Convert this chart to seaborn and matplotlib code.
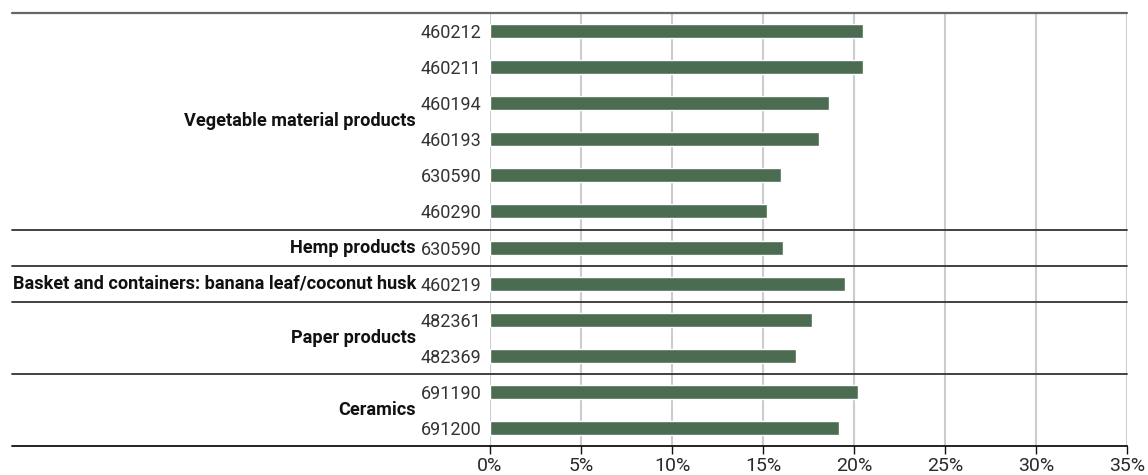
import numpy as np
import pandas as pd
import matplotlib
matplotlib.use("Agg")
import matplotlib.pyplot as plt
import matplotlib.transforms as mtransforms
import seaborn as sns

groups = ["Vegetable material products"] * 6 + [
    "Hemp products",
    "Basket and containers: banana leaf/coconut husk",
    "Paper products", "Paper products",
    "Ceramics", "Ceramics",
]
codes = ["460212", "460211", "460194", "460193", "630590", "460290",
         "630590", "460219", "482361", "482369", "691190", "691200"]
shares = [20.5, 20.5, 18.6, 18.1, 16.0, 15.2, 16.1, 19.5, 17.7, 16.8, 20.2, 19.2]
xticks = [0, 5, 10, 15, 20, 25, 30, 35]

bar_color = "#4b6c51"

sns.set_theme(style="white")
plt.rcParams["font.family"] = ["Roboto", "DejaVu Sans"]

df = pd.DataFrame({"group": groups, "code": codes, "share": shares})
df["row"] = [f"{g}|{c}|{i}" for i, (g, c) in enumerate(zip(groups, codes))]

fig = plt.figure(figsize=(11.48, 4.75), dpi=100)
ax = fig.add_axes([490 / 1148, 1 - 446 / 475, (1127 - 490) / 1148, (446 - 13) / 475])

sns.barplot(data=df, x="share", y="row", orient="h", color=bar_color,
            width=0.39, saturation=1, ax=ax, zorder=3)

ax.set_xlim(0, 35)
ax.set_ylim(len(codes) - 0.5, -0.5)
ax.set_xticks(xticks)
ax.set_xticklabels([f"{t}%" for t in xticks], fontsize=14, color="#2a2a2a")
ax.set_yticks(range(len(codes)))
ax.set_yticklabels(codes, fontsize=13, color="#333333")
ax.tick_params(axis="y", length=0, pad=6)
ax.tick_params(axis="x", direction="out", length=6, width=1, color="#111111", pad=2, bottom=True)
ax.set_xlabel("")
ax.set_ylabel("")

ax.grid(axis="x", color="#cccccc", linewidth=1.5, zorder=0)
ax.set_axisbelow(True)
for s in ["left", "right", "top"]:
    ax.spines[s].set_visible(False)
ax.spines["bottom"].set_color("#111111")
ax.spines["bottom"].set_linewidth(1.3)
ax.spines["bottom"].set_bounds(0, 35)

# group separators across the full width
trans = mtransforms.blended_transform_factory(ax.transAxes, ax.transData)
x0 = (12 - 490) / (1127 - 490)
ax.plot([x0, 1.0], [-0.5, -0.5], transform=trans, color="#666666", lw=1.6, clip_on=False)
ax.plot([x0, 0.0], [len(codes) - 0.5] * 2, transform=trans, color="#111111", lw=1.3, clip_on=False)

order = []
for g in groups:
    if g not in order:
        order.append(g)
for g in order:
    idx = [i for i, gg in enumerate(groups) if gg == g]
    if idx[-1] < len(groups) - 1:
        ax.plot([x0, 1.0], [idx[-1] + 0.5] * 2, transform=trans, color="#333333", lw=1.3, clip_on=False)
    yc = np.mean(idx)
    ax.text(-74 / 637, yc, g, transform=trans, ha="right", va="center",
            fontsize=13.1, fontweight="bold", color="#111111")

fig.savefig("out.png", dpi=100)
